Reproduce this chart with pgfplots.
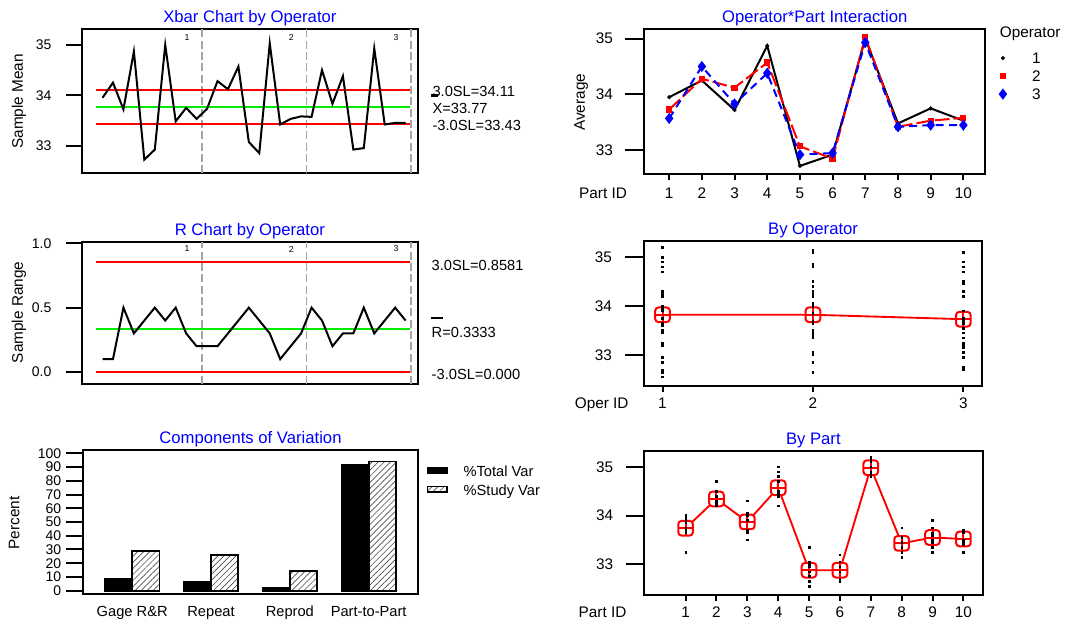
\documentclass[border=0pt]{standalone}
\usepackage{fontspec}
\setmainfont{Liberation Sans}
\usepackage{pgfplots}
\pgfplotsset{compat=1.18}
\usepackage{pgfplotstable}
\usetikzlibrary{patterns.meta}

\definecolor{cgreen}{RGB}{0,235,0}
\definecolor{cgray}{RGB}{165,165,165}

\pgfdeclareplotmark{rsqplus}{%
  \draw[rounded corners=0.45\pgfplotmarksize, fill=white] (-\pgfplotmarksize,-\pgfplotmarksize) rectangle (\pgfplotmarksize,\pgfplotmarksize);
  \draw (-\pgfplotmarksize,0pt) -- (\pgfplotmarksize,0pt) (0pt,-\pgfplotmarksize) -- (0pt,\pgfplotmarksize);
}

% subgroup means and ranges (operator 1: 1-10, 2: 11-20, 3: 21-30)
\pgfplotstableread{
k xbar r
1 33.95 0.1
2 34.25 0.1
3 33.72 0.5
4 34.87 0.3
5 32.72 0.4
6 32.92 0.5
7 35.00 0.4
8 33.48 0.5
9 33.75 0.3
10 33.53 0.2
11 33.73 0.2
12 34.28 0.2
13 34.12 0.3
14 34.57 0.4
15 33.07 0.5
16 32.85 0.4
17 35.03 0.3
18 33.42 0.1
19 33.53 0.2
20 33.58 0.3
21 33.57 0.5
22 34.50 0.4
23 33.83 0.2
24 34.38 0.3
25 32.92 0.3
26 32.95 0.5
27 34.93 0.3
28 33.42 0.4
29 33.45 0.5
30 33.45 0.4
}\sub

% operator * part averages
\pgfplotstableread{
part o1 o2 o3 mean
1 33.95 33.73 33.57 33.74
2 34.25 34.28 34.50 34.34
3 33.72 34.12 33.83 33.87
4 34.87 34.57 34.38 34.57
5 32.72 33.07 32.92 32.88
6 32.92 32.85 32.95 32.88
7 35.00 35.03 34.93 34.98
8 33.48 33.42 33.42 33.43
9 33.75 33.53 33.45 33.55
10 33.53 33.58 33.45 33.52
}\inter

% operator means
\pgfplotstableread{
op mean
1 33.82
2 33.82
3 33.73
}\opmean

% individual measurements
\pgfplotstableread{
part op val
1 1 33.90
1 1 33.95
1 1 34.00
1 2 33.65
1 2 33.70
1 2 33.85
1 3 33.25
1 3 33.70
1 3 33.75
2 1 34.20
2 1 34.25
2 1 34.30
2 2 34.20
2 2 34.25
2 2 34.40
2 3 34.30
2 3 34.50
2 3 34.70
3 1 33.50
3 1 33.65
3 1 34.00
3 2 34.00
3 2 34.05
3 2 34.30
3 3 33.70
3 3 33.90
3 3 33.90
4 1 34.70
4 1 34.90
4 1 35.00
4 2 34.40
4 2 34.50
4 2 34.80
4 3 34.20
4 3 34.45
4 3 34.50
5 1 32.55
5 1 32.65
5 1 32.95
5 2 32.85
5 2 33.00
5 2 33.35
5 3 32.75
5 3 32.95
5 3 33.05
6 1 32.70
6 1 32.85
6 1 33.20
6 2 32.65
6 2 32.85
6 2 33.05
6 3 32.70
6 3 32.95
6 3 33.20
7 1 34.80
7 1 35.00
7 1 35.20
7 2 34.85
7 2 35.10
7 2 35.15
7 3 34.80
7 3 34.90
7 3 35.10
8 1 33.25
8 1 33.45
8 1 33.75
8 2 33.35
8 2 33.45
8 2 33.45
8 3 33.15
8 3 33.55
8 3 33.55
9 1 33.60
9 1 33.75
9 1 33.90
9 2 33.45
9 2 33.50
9 2 33.65
9 3 33.25
9 3 33.35
9 3 33.75
10 1 33.45
10 1 33.50
10 1 33.65
10 2 33.40
10 2 33.65
10 2 33.70
10 3 33.25
10 3 33.45
10 3 33.65
}\meas

\pgfplotsset{
  gbase/.style={
    scale only axis, anchor=south west, clip=false,
    axis line style={line width=1.5pt},
    tick style={line width=1.5pt, black},
    tick align=outside, tick pos=left,
    /pgf/number format/assume math mode=true,
    title style={font=\fontsize{12.5}{14}\selectfont, text=blue, at={(0.5,1)}, anchor=base, yshift=-1.2pt},
    yticklabel style={anchor=east, inner sep=0pt},
  },
  xover/.style={
    scale only axis, anchor=south west, hide y axis,
    axis line style={draw=none},
    tick style={line width=1.5pt, black},
    tick align=outside, tick pos=left, major tick length=4.5pt,
    /pgf/number format/assume math mode=true,
    xticklabel style={font=\fontsize{11.5}{13}\selectfont, anchor=base, inner sep=0pt},
  },
  meanline/.style={red, line width=1.4pt, mark=rsqplus, mark size=5.5pt, mark options={line width=1.5pt}},
  dots/.style={only marks, mark=square*, mark size=0.6pt, black},
  boxlegend/.style={legend image code/.code={\path[draw=none,fill=none,pattern=none] (0pt,0pt) -- (27pt,0pt); \draw[##1] (0pt,-0.55pt) rectangle (14.5pt,3.75pt);}},
  marklegend/.style={legend image code/.code={\path[draw=none,fill=none] (0pt,0pt) -- (22pt,0pt); \draw[##1, only marks] plot coordinates {(0pt,0pt)};}},
}

\begin{document}
\begin{tikzpicture}
\useasboundingbox (0,0) rectangle (799.5pt,467.25pt);

% ---------------- Xbar chart ----------------
\begin{axis}[gbase, at={(61.5pt,337.3pt)}, width=251.8pt, height=108pt,
  xmin=-0.965, xmax=31.16, ymin=32.45, ymax=35.311,
  xtick=\empty, ytick={33,34,35}, major tick length=12pt,
  yticklabel style={font=\fontsize{10.5}{12}\selectfont, xshift=-10.7pt},
  title={Xbar Chart by Operator}]
\addplot[cgray, line width=1.1pt, dash pattern=on 6pt off 2.5pt] coordinates {(10.5,32.45)(10.5,35.311)};
\addplot[cgray, line width=1.1pt, dash pattern=on 6pt off 2.5pt] coordinates {(20.5,32.45)(20.5,35.311)};
\addplot[cgray, line width=1.1pt, dash pattern=on 6pt off 2.5pt] coordinates {(30.5,32.45)(30.5,35.311)};
\addplot[red, line width=1.4pt] coordinates {(0.35,34.11)(30.4,34.11)};
\addplot[cgreen, line width=1.4pt] coordinates {(0.35,33.77)(30.4,33.77)};
\addplot[red, line width=1.4pt] coordinates {(0.35,33.43)(30.4,33.43)};
\addplot[black, line width=1.5pt] table[x=k, y=xbar] {\sub};
\node[font=\fontsize{6.5}{7}\selectfont] at (axis cs:9.08,35.146) {1};
\node[font=\fontsize{6.5}{7}\selectfont] at (axis cs:19.06,35.146) {2};
\node[font=\fontsize{6.5}{7}\selectfont] at (axis cs:29.08,35.146) {3};
\end{axis}

% ---------------- R chart ----------------
\begin{axis}[gbase, at={(61.5pt,179pt)}, width=251.8pt, height=107pt,
  xmin=-0.965, xmax=31.16, ymin=-0.096, ymax=1.013,
  xtick=\empty, ytick={0,0.5,1}, yticklabels={0.0,0.5,1.0}, major tick length=12pt,
  yticklabel style={font=\fontsize{10.5}{12}\selectfont, xshift=-10.8pt},
  title={R Chart by Operator}]
\addplot[cgray, line width=1.1pt, dash pattern=on 6pt off 2.5pt] coordinates {(10.5,-0.096)(10.5,1.013)};
\addplot[cgray, line width=1.1pt, dash pattern=on 6pt off 2.5pt] coordinates {(20.5,-0.096)(20.5,1.013)};
\addplot[cgray, line width=1.1pt, dash pattern=on 6pt off 2.5pt] coordinates {(30.5,-0.096)(30.5,1.013)};
\addplot[red, line width=1.4pt] coordinates {(0.35,0.8581)(30.4,0.8581)};
\addplot[cgreen, line width=1.4pt] coordinates {(0.35,0.3333)(30.4,0.3333)};
\addplot[red, line width=1.4pt] coordinates {(0.35,0)(30.4,0)};
\addplot[black, line width=1.5pt] table[x=k, y=r] {\sub};
\node[font=\fontsize{6.5}{7}\selectfont] at (axis cs:9.08,0.956) {1};
\node[font=\fontsize{6.5}{7}\selectfont] at (axis cs:19.06,0.956) {2};
\node[font=\fontsize{6.5}{7}\selectfont] at (axis cs:29.08,0.956) {3};
\end{axis}

% ---------------- Components of variation ----------------
\begin{axis}[gbase, at={(62.2pt,21.75pt)}, width=251.25pt, height=108pt,
  xmin=-0.625, xmax=3.625, ymin=-2.4, ymax=102.4,
  ytick={0,10,...,100}, major tick length=12.5pt,
  yticklabel style={font=\fontsize{10.5}{12}\selectfont, xshift=-3.6pt},
  xtick={0,1,2,3}, xticklabels={Gage R\&R,Repeat,Reprod,Part-to-Part},
  xtick style={draw=none},
  xticklabel style={font=\fontsize{11}{13}\selectfont, anchor=base, inner sep=0pt, yshift=-4.5pt},
  title={Components of Variation},
  legend style={at={(1.0255,0.8935)}, anchor=north west, draw=none, fill=none,
    inner sep=0pt, row sep=3.95pt, column sep=0pt,
    font=\fontsize{11}{13}\selectfont, nodes={inner sep=0pt, text height=8pt, text depth=2.3pt}},
  legend cell align=left, boxlegend]
\addplot[ybar, bar width=0.345, bar shift=0pt, fill=black, draw=black, line width=1.3pt]
  coordinates {(-0.1725,8.3) (0.8275,6.5) (1.8275,1.8) (2.8275,91.5)};
\addlegendentry{\%Total Var}
\addplot[ybar, bar width=0.345, bar shift=0pt, draw=black, line width=1.3pt,
  pattern={Lines[angle=45,distance=3.2pt,line width=0.5pt]}, pattern color=black!70]
  coordinates {(0.1725,29.0) (1.1725,26.0) (2.1725,14.6) (3.1725,94.0)};
\addlegendentry{\%Study Var}
\end{axis}

% ---------------- Operator*Part interaction ----------------
\begin{axis}[gbase, at={(483pt,336.75pt)}, width=256.1pt, height=108.6pt,
  xmin=0.23, xmax=10.677, ymin=32.575, ymax=35.168,
  xtick=\empty, ytick={33,34,35}, major tick length=13.9pt,
  yticklabel style={font=\fontsize{11.5}{13}\selectfont, xshift=-9.3pt},
  title={Operator*Part Interaction},
  legend style={at={(1.0414,0.840)}, anchor=north west, draw=none, fill=none,
    inner sep=0pt, row sep=5.3pt, column sep=0pt,
    font=\fontsize{11.5}{13}\selectfont, nodes={inner sep=0pt, text height=8.2pt, text depth=0pt}},
  legend cell align=left, marklegend]
\addplot[black, line width=1.5pt, mark=*, mark size=0.6pt] table[x=part, y=o1] {\inter};
\addlegendentry{1}
\addplot[red, line width=1.5pt, dash pattern=on 11pt off 3pt, mark=square*, mark size=1.6pt, mark options={solid}] table[x=part, y=o2] {\inter};
\addlegendentry{2}
\addplot[blue, line width=1.5pt, dash pattern=on 6pt off 4pt, mark=diamond*, mark size=3pt, mark options={solid}] table[x=part, y=o3] {\inter};
\addlegendentry{3}
\end{axis}
\begin{axis}[xover, at={(483pt,336.75pt)}, width=256.1pt, height=108.6pt,
  xmin=0.23, xmax=10.677, ymin=32.575, ymax=35.168,
  xtick={1,...,10}, xticklabel style={yshift=-14.1pt}]
\end{axis}

% ---------------- By Operator ----------------
\begin{axis}[gbase, at={(483pt,177.75pt)}, width=253.6pt, height=108.5pt,
  xmin=0.877, xmax=3.125, ymin=32.365, ymax=35.321,
  xtick=\empty, ytick={33,34,35}, major tick length=13.9pt,
  yticklabel style={font=\fontsize{11.5}{13}\selectfont, xshift=-10pt},
  title={By Operator}]
\addplot[meanline] table[x=op, y=mean] {\opmean};
\addplot[dots] table[x=op, y=val] {\meas};
\end{axis}
\begin{axis}[xover, at={(483pt,177.75pt)}, width=253.6pt, height=108.5pt,
  xmin=0.877, xmax=3.125, ymin=32.365, ymax=35.321,
  xtick={1,2,3}, xticklabel style={yshift=-12.5pt}]
\end{axis}

% ---------------- By Part ----------------
\begin{axis}[gbase, at={(483pt,21pt)}, width=254pt, height=108.2pt,
  xmin=-0.347, xmax=10.625, ymin=32.372, ymax=35.328,
  xtick=\empty, ytick={33,34,35}, major tick length=13.7pt,
  yticklabel style={font=\fontsize{11.5}{13}\selectfont, xshift=-9.3pt},
  title={By Part}]
\addplot[meanline] table[x=part, y=mean] {\inter};
\addplot[dots] table[x=part, y=val] {\meas};
\end{axis}
\begin{axis}[xover, at={(483pt,21pt)}, width=254pt, height=108.2pt,
  xmin=-0.347, xmax=10.625, ymin=32.372, ymax=35.328,
  xtick={1,...,10}, xticklabel style={yshift=-12.2pt}]
\end{axis}

% ---------------- free text ----------------
\node[rotate=90, font=\fontsize{11.5}{13}\selectfont] at (14.2pt,391.3pt) {Sample Mean};
\node[rotate=90, font=\fontsize{11.5}{13}\selectfont] at (14.2pt,232.9pt) {Sample Range};
\node[rotate=90, font=\fontsize{11.5}{13}\selectfont] at (10.7pt,75pt) {Percent};
\node[rotate=90, font=\fontsize{11.5}{13}\selectfont] at (435.8pt,390.5pt) {Average};

\node[font=\fontsize{11.5}{13}\selectfont, anchor=base, inner sep=0pt] at (452.3pt,318.1pt) {Part ID};
\node[font=\fontsize{11.5}{13}\selectfont, anchor=base, inner sep=0pt] at (451.3pt,160.7pt) {Oper ID};
\node[font=\fontsize{11.5}{13}\selectfont, anchor=base, inner sep=0pt] at (451.9pt,4.3pt) {Part ID};
\node[font=\fontsize{11.5}{13}\selectfont, anchor=base west, inner sep=0pt] at (749.7pt,439.05pt) {Operator};

\node[font=\fontsize{11}{13}\selectfont, anchor=base west, inner sep=0pt] at (324.2pt,394.75pt) {3.0SL=34.11};
\node[font=\fontsize{11}{13}\selectfont, anchor=base west, inner sep=0pt] at (324.2pt,381.75pt) {X=33.77};
\node[font=\fontsize{11}{13}\selectfont, anchor=base west, inner sep=0pt] at (324.2pt,369.25pt) {-3.0SL=33.43};
\fill[black] (322.9pt,394.3pt) rectangle (328.5pt,396.75pt);

\node[font=\fontsize{11}{13}\selectfont, anchor=base west, inner sep=0pt] at (323.6pt,264.25pt) {3.0SL=0.8581};
\node[font=\fontsize{11}{13}\selectfont, anchor=base west, inner sep=0pt] at (323.6pt,214pt) {R=0.3333};
\node[font=\fontsize{11}{13}\selectfont, anchor=base west, inner sep=0pt] at (323.6pt,182.75pt) {-3.0SL=0.000};
\draw[line width=1.4pt] (323.6pt,228.5pt) -- (331.9pt,228.5pt);
\end{tikzpicture}
\end{document}
